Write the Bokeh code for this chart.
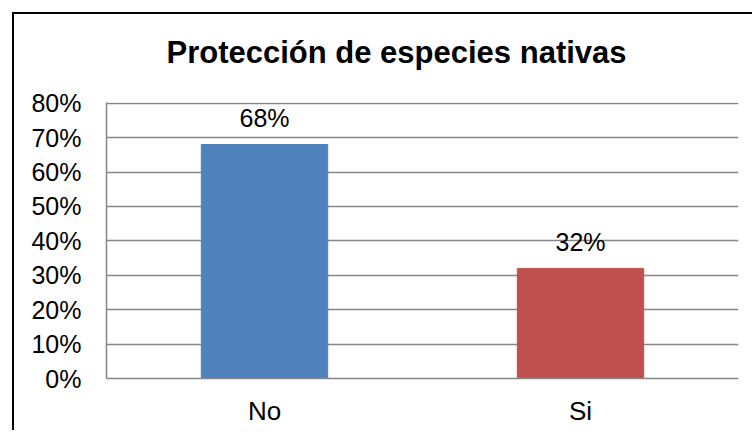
from bokeh.plotting import figure
from bokeh.models import ColumnDataSource, FactorRange, Range1d, NumeralTickFormatter, FixedTicker, Title
from bokeh.embed import file_html
from bokeh.resources import INLINE

categories = ["No", "Si"]
values = [0.68, 0.32]
labels = ["68%", "32%"]
colors = ["#4F81BD", "#C0504D"]
yticks = [0.0, 0.1, 0.2, 0.3, 0.4, 0.5, 0.6, 0.7, 0.8]
title = "Protección de especies nativas"

FONT = "Liberation Sans"
GRID = "#868686"

src = ColumnDataSource(dict(cat=categories, val=values, lab=labels, col=colors))

p = figure(x_range=FactorRange(*categories, range_padding=0), y_range=Range1d(0, 0.802),
           width=740, height=418, output_backend="svg", toolbar_location=None,
           min_border_left=92, min_border_right=16, min_border_top=88, min_border_bottom=54)
p.styles = {"margin-left": "12px", "margin-top": "12px",
            "border-left": "2px solid black", "border-top": "2px solid black"}

p.vbar(x="cat", top="val", width=0.4, color="col", source=src)
p.text(x="cat", y="val", text="lab", source=src, text_align="center", text_baseline="middle",
       y_offset=-26, text_font_size="25px", text_color="black", text_font={"value": FONT})

# spacer panel between the frame and the title
p.add_layout(Title(text=" ", text_font_size="1px", standoff=30), "above")
p.add_layout(Title(text=title, align="left", offset=60, vertical_align="bottom", standoff=0,
                   text_font=FONT, text_font_size="31px", text_font_style="bold",
                   text_color="black"), "above")

p.outline_line_color = None
p.xgrid.grid_line_color = None
p.ygrid.grid_line_color = GRID
p.ygrid.grid_line_width = 1.5
p.yaxis.ticker = FixedTicker(ticks=yticks)
p.yaxis.formatter = NumeralTickFormatter(format="0%")

for ax in (p.xaxis[0], p.yaxis[0]):
    ax.axis_line_color = GRID
    ax.axis_line_width = 1.5
    ax.major_tick_line_color = None
    ax.minor_tick_line_color = None
    ax.major_tick_out = 0
    ax.major_tick_in = 0
    ax.major_label_text_font = FONT
    ax.major_label_text_color = "black"
p.yaxis.major_label_text_font_size = "25px"
p.yaxis.major_label_standoff = 25
p.xaxis.major_label_text_font_size = "26px"
p.xaxis.major_label_standoff = 17

open("out.html", "w").write(file_html(p, INLINE))
